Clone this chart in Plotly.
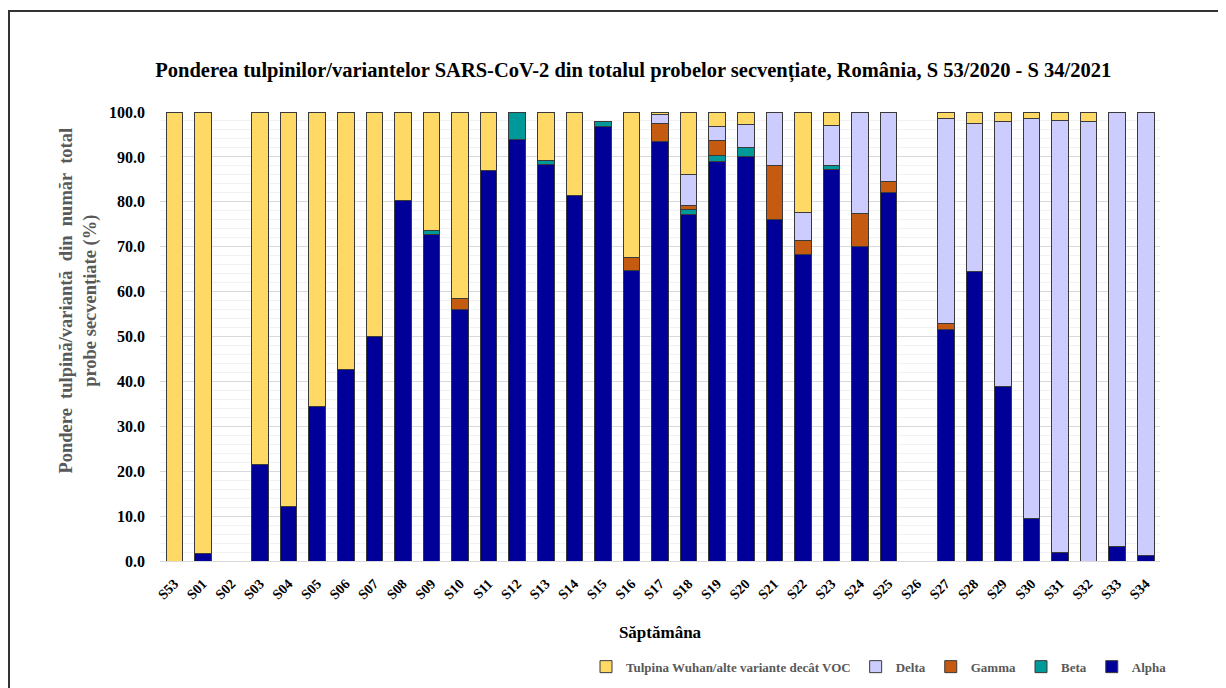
import plotly.graph_objects as go

weeks = ["S53", "S01", "S02", "S03", "S04", "S05", "S06", "S07", "S08", "S09", "S10",
         "S11", "S12", "S13", "S14", "S15", "S16", "S17", "S18", "S19", "S20", "S21",
         "S22", "S23", "S24", "S25", "S26", "S27", "S28", "S29", "S30", "S31", "S32",
         "S33", "S34"]

alpha = [0, 1.6, None, 21.4, 12.1, 34.5, 42.7, 50.0, 80.2, 72.8, 56.0,
         86.9, 93.8, 88.3, 81.3, 96.7, 64.7, 93.5, 77.2, 88.9, 90.2, 76.1,
         68.2, 87.2, 70.0, 82.0, None, 51.6, 64.4, 38.8, 9.4, 1.9, 0,
         3.2, 1.3]
beta = [0, 0, None, 0, 0, 0, 0, 0, 0, 0.8, 0,
        0, 6.2, 0.8, 0, 1.1, 0, 0, 1.0, 1.5, 1.9, 0,
        0, 0.8, 0, 0, None, 0, 0, 0, 0, 0, 0,
        0, 0]
gamma = [0, 0, None, 0, 0, 0, 0, 0, 0, 0, 2.4,
         0, 0, 0, 0, 0, 2.9, 4.0, 1.0, 3.2, 0, 11.9,
         3.2, 0, 7.4, 2.5, None, 1.3, 0, 0, 0, 0, 0,
         0, 0]
delta = [0, 0, None, 0, 0, 0, 0, 0, 0, 0, 0,
         0, 0, 0, 0, 0, 0, 2.0, 6.9, 3.1, 5.2, 12.0,
         6.3, 9.0, 22.6, 15.5, None, 45.7, 33.1, 59.0, 89.2, 96.1, 97.8,
         96.8, 98.7]
wuhan = [100.0, 98.4, None, 78.6, 87.9, 65.5, 57.3, 50.0, 19.8, 26.4, 41.6,
         13.1, 0, 10.9, 18.7, 0, 32.4, 0.5, 13.9, 3.3, 2.7, 0,
         22.3, 3.0, 0, 0, None, 1.4, 2.5, 2.2, 1.4, 2.0, 2.2,
         0, 0]

series = [
    ("Alpha", alpha, "#000099"),
    ("Beta", beta, "#009999"),
    ("Gamma", gamma, "#C55A11"),
    ("Delta", delta, "#CCCCFF"),
    ("Tulpina Wuhan/alte variante decât VOC", wuhan, "#FFD966"),
]

y_ticks = [0, 10, 20, 30, 40, 50, 60, 70, 80, 90, 100]

FONT = "Liberation Serif"

fig = go.Figure()
for name, vals, color in series:
    fig.add_trace(go.Bar(
        x=weeks, y=vals, name=name,
        marker=dict(color=color, line=dict(color="#3a3a3a", width=1)),
    ))

fig.update_layout(
    barmode="stack",
    bargap=0.42,
    width=1226, height=688,
    paper_bgcolor="white", plot_bgcolor="white",
    margin=dict(l=152, r=74, t=104, b=135, autoexpand=False),
    font=dict(family=FONT, color="black"),
    title=dict(
        text="<b>Ponderea tulpinilor/variantelor SARS-CoV-2 din totalul probelor secvențiate, România, S 53/2020 - S 34/2021</b>",
        x=0.510, xanchor="center", y=0.91, yanchor="middle",
        font=dict(family=FONT, size=20.5, color="black"),
    ),
    xaxis=dict(
        type="category",
        automargin=False,
        tickangle=-45,
        tickfont=dict(family=FONT, size=14, color="black", weight="bold"),
        showgrid=False,
        showline=True, linecolor="#d9d9d9", linewidth=1,
        ticks="",
        ticklabelstandoff=8,
        title=dict(text="<b>Săptămâna</b>", font=dict(family=FONT, size=17, color="black"), standoff=24),
    ),
    yaxis=dict(
        range=[0, 100],
        automargin=False,
        tickvals=y_ticks,
        ticktext=[f"{v:.1f}" for v in y_ticks],
        tickfont=dict(family=FONT, size=16, color="black", weight="bold"),
        showgrid=True, gridcolor="#d9d9d9", gridwidth=1,
        minor=dict(dtick=2, showgrid=True, gridcolor="#f2f2f2", gridwidth=1),
        zeroline=False,
        ticks="",
        ticklabelstandoff=14,
    ),
    legend=dict(
        orientation="h",
        traceorder="reversed",
        x=1.012, xanchor="right",
        y=-0.202, yanchor="top",
        font=dict(family=FONT, size=13, color="#595959", weight="bold"),
        itemwidth=30,
    ),
    showlegend=True,
)

fig.add_annotation(
    text="<b>Pondere  tulpină/variantă  din  număr  total<br>probe secvențiate (%)</b>",
    xref="paper", yref="paper", x=-0.081, y=0.58,
    xanchor="center", yanchor="middle",
    textangle=-90, showarrow=False,
    font=dict(family=FONT, size=18.5, color="#595959"),
)

fig.add_shape(
    type="rect", xref="paper", yref="paper",
    x0=-0.151, x1=1.2, y0=-0.4, y1=1.2249,
    line=dict(color="#333333", width=2), fillcolor="rgba(0,0,0,0)",
    layer="below",
)

fig.write_html("out.html")
